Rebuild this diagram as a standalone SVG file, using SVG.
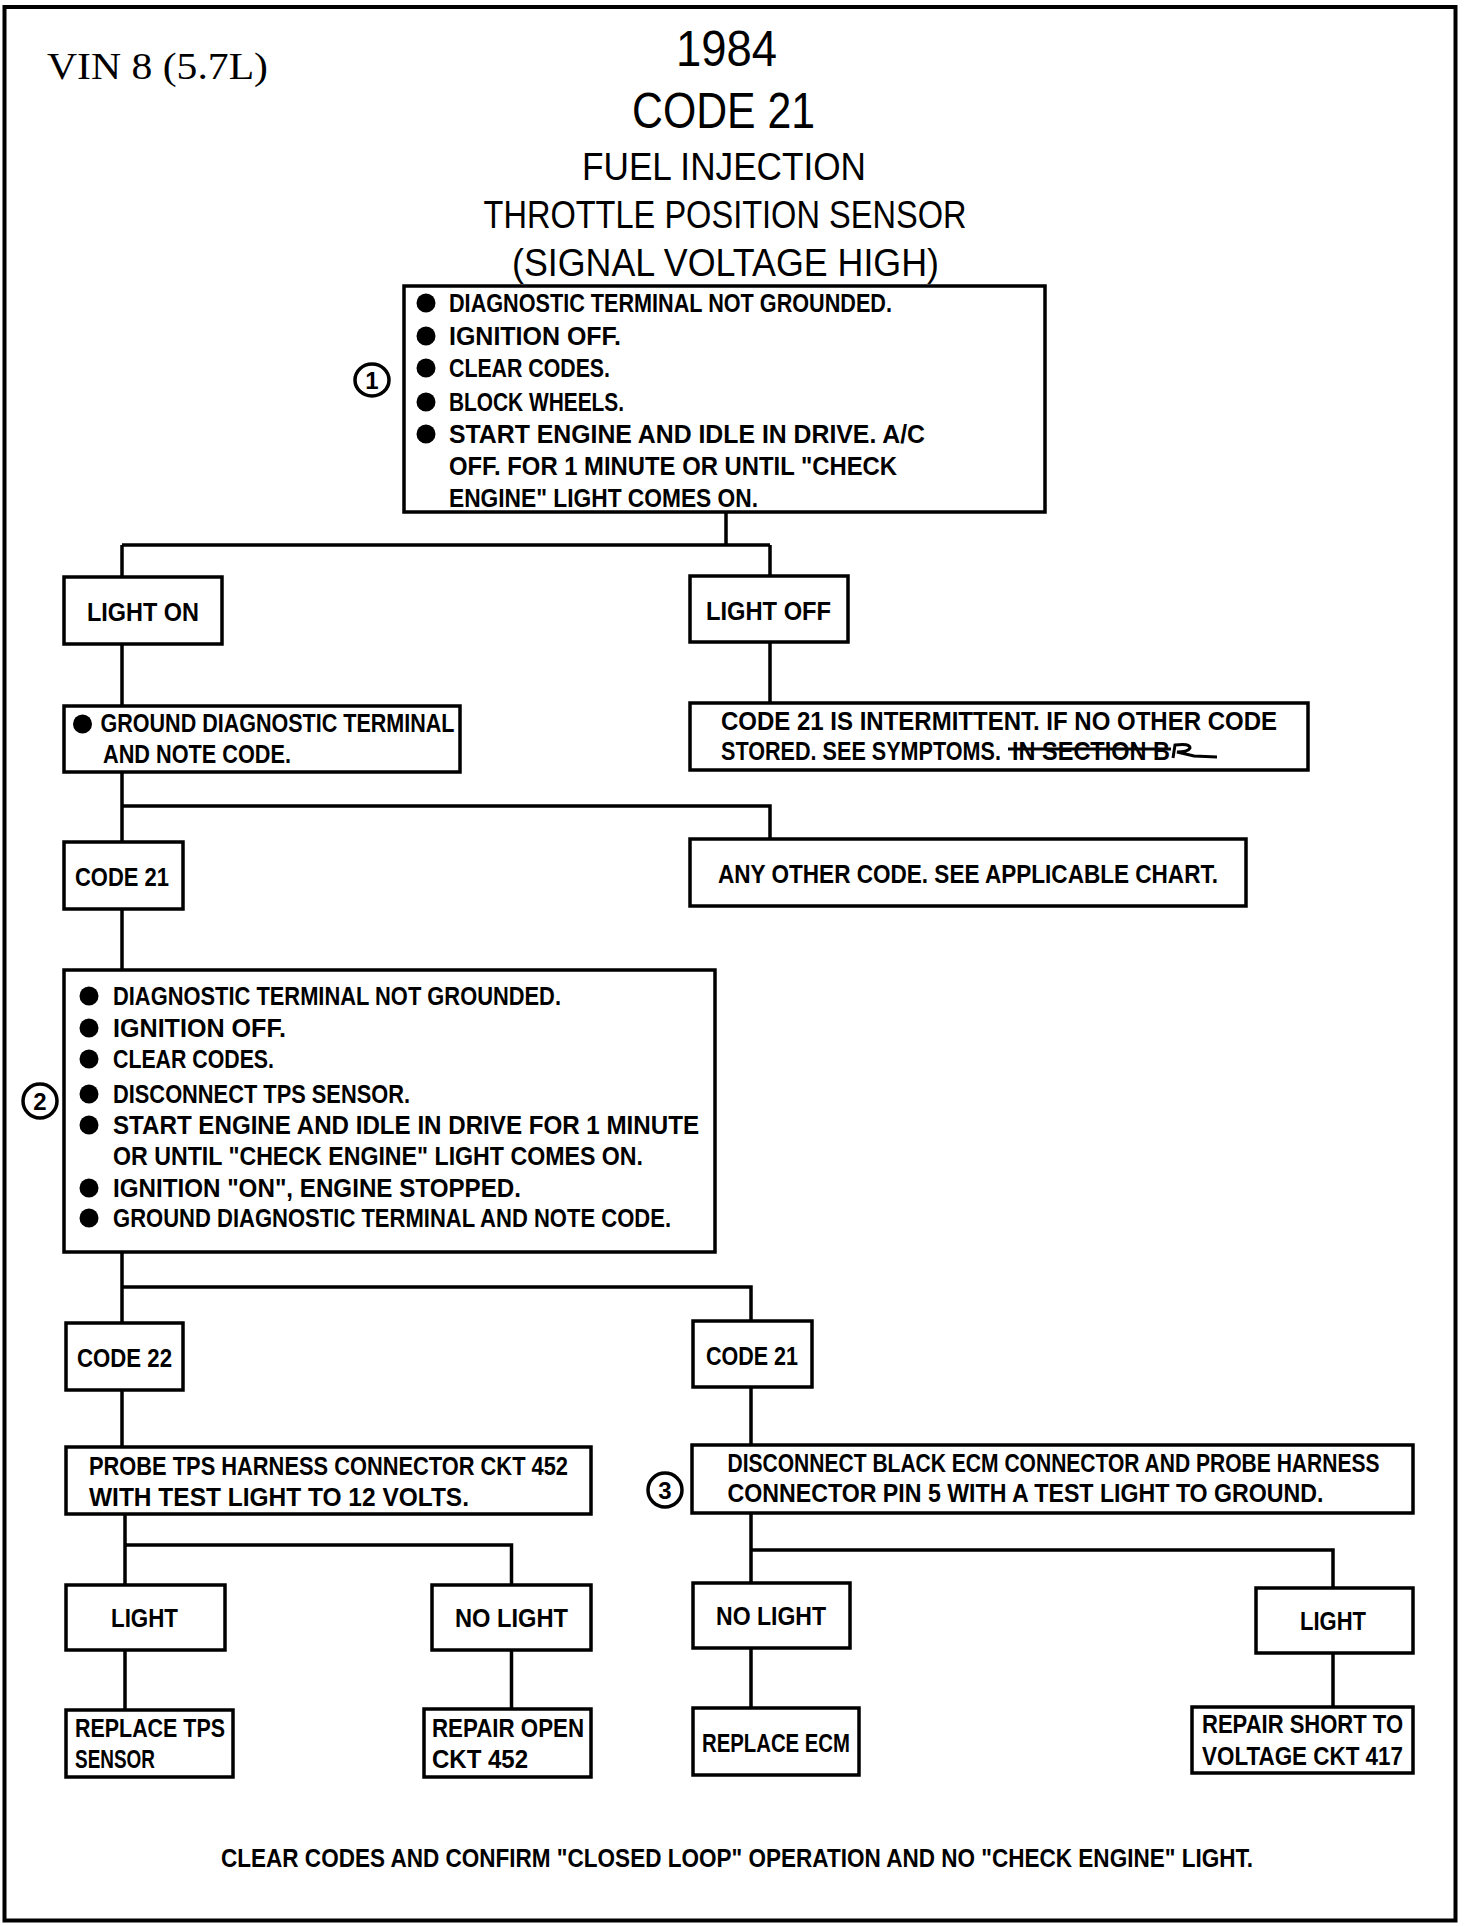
<svg xmlns="http://www.w3.org/2000/svg" width="1472" height="1926" viewBox="0 0 1472 1926">
<style>
.bx{fill:#fff;stroke:#000;stroke-width:3.5}
.ln{fill:none;stroke:#000;stroke-width:3.5}
.t{font-family:"Liberation Sans",Arial,sans-serif;font-weight:bold;font-size:26px;fill:#000}
.h{font-family:"Liberation Sans",Arial,sans-serif;font-weight:normal;fill:#000;text-anchor:middle}
.num{font-family:"Liberation Sans",Arial,sans-serif;font-weight:bold;font-size:24px;fill:#000;text-anchor:middle}
.cir{fill:#fff;stroke:#000;stroke-width:3.5}
</style>
<rect x="4.5" y="7" width="1451" height="1913.5" fill="#fff" stroke="#000" stroke-width="4"/>

<g id="title">
<text x="47" y="79" font-family="Liberation Serif,Times New Roman,serif" font-size="38" textLength="221" lengthAdjust="spacingAndGlyphs">VIN 8 (5.7L)</text>
<text class="h" x="726.5" y="66" font-size="50" textLength="101" lengthAdjust="spacingAndGlyphs">1984</text>
<text class="h" x="723.5" y="128" font-size="50" textLength="183" lengthAdjust="spacingAndGlyphs">CODE 21</text>
<text class="h" x="724" y="180" font-size="38" textLength="284" lengthAdjust="spacingAndGlyphs">FUEL INJECTION</text>
<text class="h" x="725" y="228" font-size="38" textLength="483" lengthAdjust="spacingAndGlyphs">THROTTLE POSITION SENSOR</text>
<text class="h" x="725.5" y="276" font-size="38" textLength="427" lengthAdjust="spacingAndGlyphs">(SIGNAL VOLTAGE HIGH)</text>
</g>

<g id="connectors">
<path class="ln" d="M726 512V545M122 545H770M122 545V577M770 545V576"/>
<path class="ln" d="M122 644V706M770 642V703"/>
<path class="ln" d="M122 772V842M122 806H770V839"/>
<path class="ln" d="M122 909V970"/>
<path class="ln" d="M122 1252V1323M122 1287H751V1321"/>
<path class="ln" d="M122 1390V1447M751 1387V1445"/>
<path class="ln" d="M125 1514V1585M125 1545H511.5V1585"/>
<path class="ln" d="M751 1513V1583M751 1550H1333V1588"/>
<path class="ln" d="M125 1650V1710M511.5 1650V1709M751 1648V1708M1333 1653V1707"/>
</g>

<g id="step1">
<rect class="bx" x="404" y="286" width="641" height="226"/>
<ellipse class="cir" cx="372" cy="380" rx="17" ry="16"/>
<text class="num" x="372" y="389">1</text>
<circle cx="426" cy="303" r="9.5"/><circle cx="426" cy="336" r="9.5"/><circle cx="426" cy="368" r="9.5"/><circle cx="426" cy="402" r="9.5"/><circle cx="426" cy="434" r="9.5"/>
<text class="t" x="449" y="312" textLength="443" lengthAdjust="spacingAndGlyphs">DIAGNOSTIC TERMINAL NOT GROUNDED.</text>
<text class="t" x="449" y="345" textLength="172" lengthAdjust="spacingAndGlyphs">IGNITION OFF.</text>
<text class="t" x="449" y="377" textLength="161" lengthAdjust="spacingAndGlyphs">CLEAR CODES.</text>
<text class="t" x="449" y="411" textLength="175" lengthAdjust="spacingAndGlyphs">BLOCK WHEELS.</text>
<text class="t" x="449" y="443" textLength="476" lengthAdjust="spacingAndGlyphs">START ENGINE AND IDLE IN DRIVE. A/C</text>
<text class="t" x="449" y="475" textLength="448" lengthAdjust="spacingAndGlyphs">OFF. FOR 1 MINUTE OR UNTIL "CHECK</text>
<text class="t" x="449" y="507" textLength="309" lengthAdjust="spacingAndGlyphs">ENGINE" LIGHT COMES ON.</text>
</g>

<g id="lightOn">
<rect class="bx" x="64" y="577" width="158" height="67"/>
<text class="t" x="87" y="621" textLength="112" lengthAdjust="spacingAndGlyphs">LIGHT ON</text>
</g>
<g id="lightOff">
<rect class="bx" x="690" y="576" width="158" height="66"/>
<text class="t" x="706" y="620" textLength="125" lengthAdjust="spacingAndGlyphs">LIGHT OFF</text>
</g>

<g id="groundNote">
<rect class="bx" x="64" y="706" width="396" height="66"/>
<circle cx="82.5" cy="724" r="9.5"/>
<text class="t" x="100.5" y="732" textLength="354" lengthAdjust="spacingAndGlyphs">GROUND DIAGNOSTIC TERMINAL</text>
<text class="t" x="103" y="763" textLength="188" lengthAdjust="spacingAndGlyphs">AND NOTE CODE.</text>
</g>

<g id="intermittent">
<rect class="bx" x="690" y="703" width="618" height="67"/>
<text class="t" x="721" y="730" textLength="556" lengthAdjust="spacingAndGlyphs">CODE 21 IS INTERMITTENT. IF NO OTHER CODE</text>
<text class="t" x="721" y="760" textLength="280" lengthAdjust="spacingAndGlyphs">STORED. SEE SYMPTOMS.</text>
<text class="t" x="1012" y="760" textLength="158" lengthAdjust="spacingAndGlyphs">IN SECTION B</text>
<path d="M1008 749H1171" fill="none" stroke="#000" stroke-width="3"/>
<path d="M1173 758L1175 745Q1190 743 1190 748Q1188 752 1177 752L1194 756L1217 757" fill="none" stroke="#000" stroke-width="3"/>
</g>

<g id="code21a">
<rect class="bx" x="64" y="842" width="119" height="67"/>
<text class="t" x="75" y="886" textLength="94" lengthAdjust="spacingAndGlyphs">CODE 21</text>
</g>
<g id="anyOther">
<rect class="bx" x="690" y="839" width="556" height="67"/>
<text class="t" x="718" y="883" textLength="500" lengthAdjust="spacingAndGlyphs">ANY OTHER CODE. SEE APPLICABLE CHART.</text>
</g>

<g id="step2">
<rect class="bx" x="64" y="970" width="651" height="282"/>
<circle class="cir" cx="40" cy="1101" r="17"/>
<text class="num" x="40" y="1110">2</text>
<circle cx="89" cy="996" r="9.5"/><circle cx="89" cy="1028" r="9.5"/><circle cx="89" cy="1059" r="9.5"/><circle cx="89" cy="1094" r="9.5"/><circle cx="89" cy="1125" r="9.5"/><circle cx="89" cy="1188" r="9.5"/><circle cx="89" cy="1218" r="9.5"/>
<text class="t" x="113" y="1005" textLength="448" lengthAdjust="spacingAndGlyphs">DIAGNOSTIC TERMINAL NOT GROUNDED.</text>
<text class="t" x="113" y="1037" textLength="173" lengthAdjust="spacingAndGlyphs">IGNITION OFF.</text>
<text class="t" x="113" y="1068" textLength="161" lengthAdjust="spacingAndGlyphs">CLEAR CODES.</text>
<text class="t" x="113" y="1103" textLength="297" lengthAdjust="spacingAndGlyphs">DISCONNECT TPS SENSOR.</text>
<text class="t" x="113" y="1134" textLength="586" lengthAdjust="spacingAndGlyphs">START ENGINE AND IDLE IN DRIVE FOR 1 MINUTE</text>
<text class="t" x="113" y="1165" textLength="530" lengthAdjust="spacingAndGlyphs">OR UNTIL "CHECK ENGINE" LIGHT COMES ON.</text>
<text class="t" x="113" y="1197" textLength="408" lengthAdjust="spacingAndGlyphs">IGNITION "ON", ENGINE STOPPED.</text>
<text class="t" x="113" y="1227" textLength="558" lengthAdjust="spacingAndGlyphs">GROUND DIAGNOSTIC TERMINAL AND NOTE CODE.</text>
</g>

<g id="code22">
<rect class="bx" x="66" y="1323" width="117" height="67"/>
<text class="t" x="77" y="1367" textLength="95" lengthAdjust="spacingAndGlyphs">CODE 22</text>
</g>
<g id="code21b">
<rect class="bx" x="693" y="1321" width="119" height="66"/>
<text class="t" x="706" y="1365" textLength="92" lengthAdjust="spacingAndGlyphs">CODE 21</text>
</g>

<g id="probe">
<rect class="bx" x="66" y="1447" width="525" height="67"/>
<text class="t" x="89" y="1475" textLength="479" lengthAdjust="spacingAndGlyphs">PROBE TPS HARNESS CONNECTOR CKT 452</text>
<text class="t" x="89" y="1506" textLength="380" lengthAdjust="spacingAndGlyphs">WITH TEST LIGHT TO 12 VOLTS.</text>
</g>
<g id="step3">
<rect class="bx" x="692" y="1445" width="721" height="68"/>
<circle class="cir" cx="665" cy="1490" r="17"/>
<text class="num" x="665" y="1499">3</text>
<text class="t" x="727.5" y="1472" textLength="652" lengthAdjust="spacingAndGlyphs">DISCONNECT BLACK ECM CONNECTOR AND PROBE HARNESS</text>
<text class="t" x="727.5" y="1502" textLength="596" lengthAdjust="spacingAndGlyphs">CONNECTOR PIN 5 WITH A TEST LIGHT TO GROUND.</text>
</g>

<g id="lightL">
<rect class="bx" x="66" y="1585" width="159" height="65"/>
<text class="t" x="111" y="1627" textLength="67" lengthAdjust="spacingAndGlyphs">LIGHT</text>
</g>
<g id="noLightL">
<rect class="bx" x="432" y="1585" width="159" height="65"/>
<text class="t" x="455" y="1627" textLength="113" lengthAdjust="spacingAndGlyphs">NO LIGHT</text>
</g>
<g id="noLightR">
<rect class="bx" x="693" y="1583" width="157" height="65"/>
<text class="t" x="716" y="1625" textLength="110" lengthAdjust="spacingAndGlyphs">NO LIGHT</text>
</g>
<g id="lightR">
<rect class="bx" x="1256" y="1588" width="157" height="65"/>
<text class="t" x="1300" y="1630" textLength="66" lengthAdjust="spacingAndGlyphs">LIGHT</text>
</g>

<g id="replaceTps">
<rect class="bx" x="66" y="1710" width="167" height="67"/>
<text class="t" x="75" y="1737" textLength="150" lengthAdjust="spacingAndGlyphs">REPLACE TPS</text>
<text class="t" x="75" y="1768" textLength="80" lengthAdjust="spacingAndGlyphs">SENSOR</text>
</g>
<g id="repairOpen">
<rect class="bx" x="424" y="1709" width="167" height="68"/>
<text class="t" x="432" y="1737" textLength="152" lengthAdjust="spacingAndGlyphs">REPAIR OPEN</text>
<text class="t" x="432" y="1768" textLength="96" lengthAdjust="spacingAndGlyphs">CKT 452</text>
</g>
<g id="replaceEcm">
<rect class="bx" x="693" y="1708" width="166" height="67"/>
<text class="t" x="702" y="1752" textLength="148" lengthAdjust="spacingAndGlyphs">REPLACE ECM</text>
</g>
<g id="repairShort">
<rect class="bx" x="1192" y="1707" width="221" height="66"/>
<text class="t" x="1202" y="1733" textLength="201" lengthAdjust="spacingAndGlyphs">REPAIR SHORT TO</text>
<text class="t" x="1202" y="1765" textLength="201" lengthAdjust="spacingAndGlyphs">VOLTAGE CKT 417</text>
</g>

<g id="footer">
<text class="t" x="221" y="1867" textLength="1032" lengthAdjust="spacingAndGlyphs">CLEAR CODES AND CONFIRM "CLOSED LOOP" OPERATION AND NO "CHECK ENGINE" LIGHT.</text>
</g>
</svg>
